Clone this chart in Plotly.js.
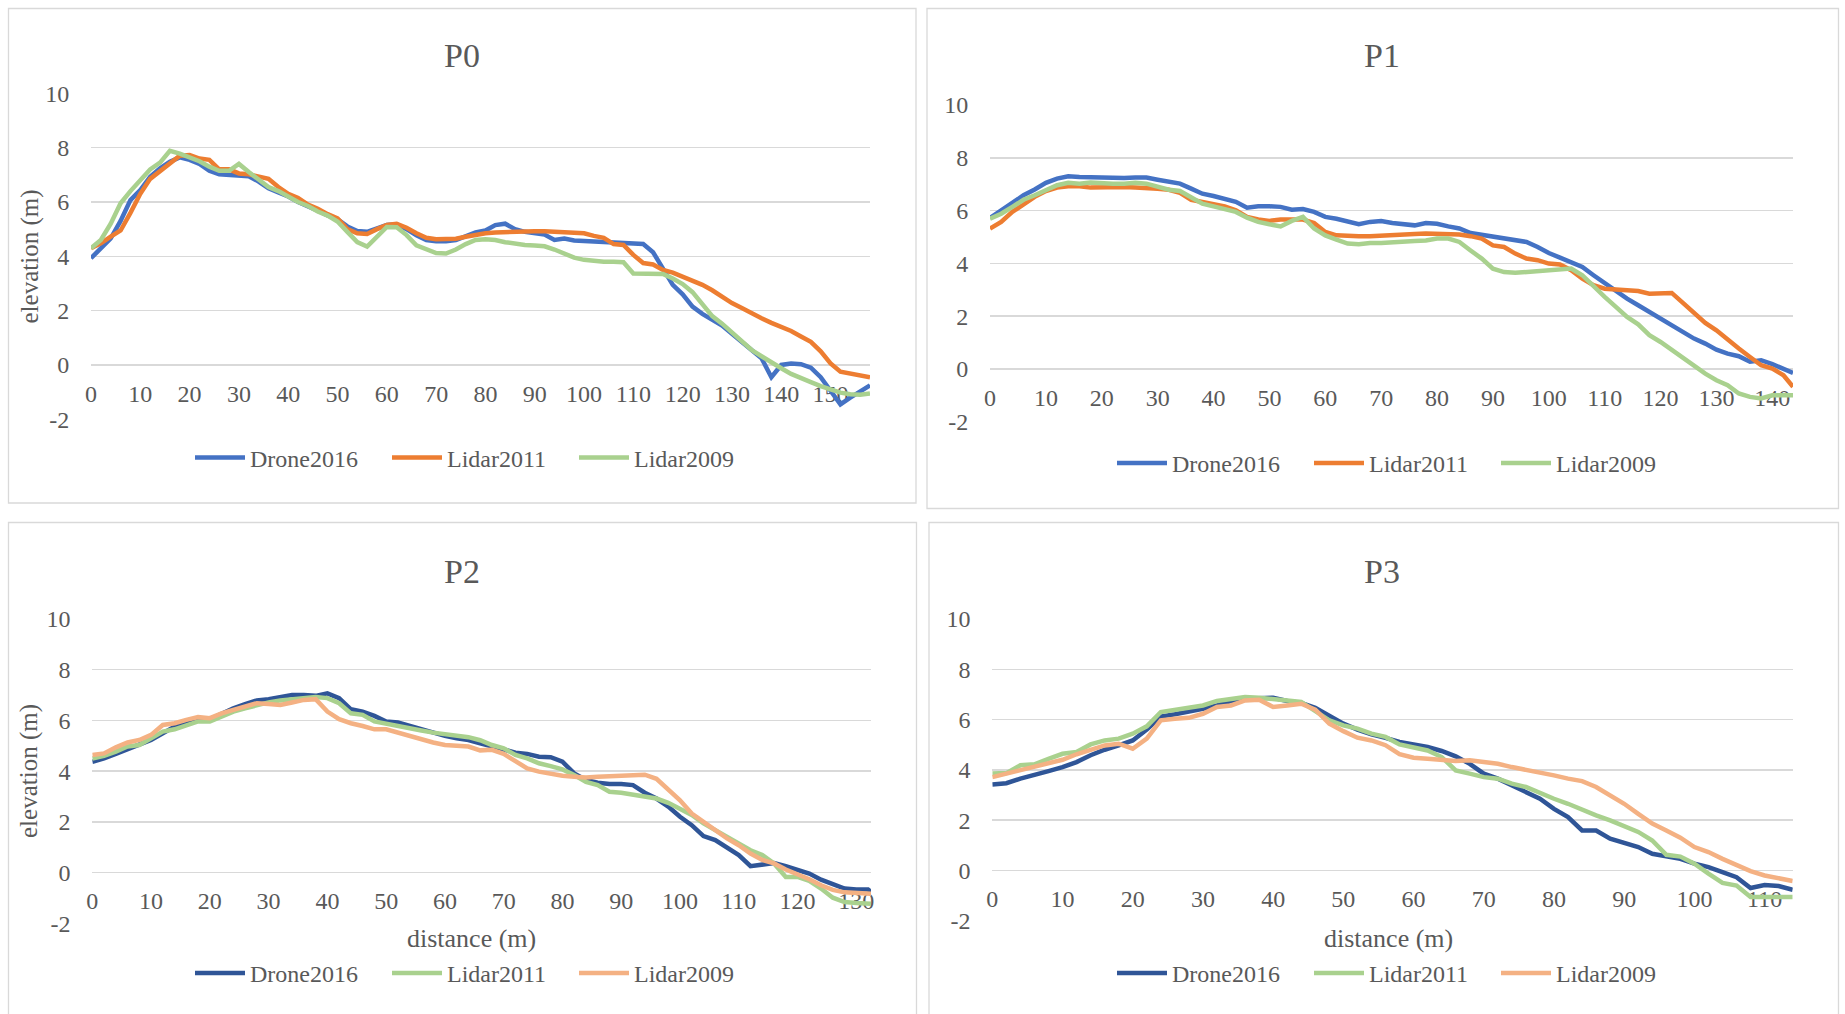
<!DOCTYPE html>
<html><head><meta charset="utf-8">
<script src="https://cdn.plot.ly/plotly-3.0.1.min.js"></script>
<style>html,body{margin:0;padding:0;background:#fff;}#chart{width:1845px;height:1014px;}</style>
</head><body><div id="chart"></div>
<script>
// ---------------- DATA ----------------
const seriesNames = ['Drone2016', 'Lidar2011', 'Lidar2009'];
const panelTitles = ['P0', 'P1', 'P2', 'P3'];
const yTickValues = [-2, 0, 2, 4, 6, 8, 10];
const yTickLabels = ['-2', '0', '2', '4', '6', '8', '10'];

const p0Distance = [0,2,4,6,8,10,12,14,16,18,20,22,24,26,28,30,32,34,36,38,40,42,44,46,48,50,52,54,56,58,60,62,64,66,68,70,72,74,76,78,80,82,84,86,88,90,92,94,96,98,100,102,104,106,108,110,112,114,116,118,120,122,124,126,128,130,132,134,136,138,140,142,144,146,148,150,152,154,156,158];
const p0Drone2016 = [3.93,4.3,4.66,5.3,6.07,6.44,6.93,7.24,7.48,7.64,
  7.55,7.4,7.15,7.02,7.0,6.97,6.95,6.75,6.5,6.35,
  6.2,6.0,5.85,5.68,5.5,5.36,5.1,4.93,4.9,5.03,
  5.15,5.18,5.0,4.77,4.6,4.55,4.55,4.6,4.75,4.88,
  4.95,5.15,5.2,5.0,4.9,4.85,4.8,4.6,4.65,4.58,
  4.56,4.55,4.52,4.52,4.52,4.5,4.45,4.15,3.55,2.95,
  2.6,2.15,1.88,1.68,1.45,1.15,0.85,0.55,0.25,-0.45,
  0.0,0.05,0.03,-0.1,-0.45,-0.95,-1.45,-1.2,-0.95,-0.75];
const p0Lidar2011 = [4.3,4.48,4.72,4.95,5.6,6.3,6.85,7.15,7.45,7.7,
  7.73,7.6,7.55,7.2,7.2,7.05,7.02,6.95,6.85,6.55,
  6.3,6.15,5.9,5.75,5.55,5.4,5.0,4.85,4.82,5.0,
  5.15,5.2,5.05,4.85,4.68,4.63,4.63,4.65,4.72,4.8,
  4.85,4.88,4.9,4.92,4.92,4.92,4.92,4.9,4.88,4.87,
  4.85,4.75,4.68,4.45,4.42,4.05,3.75,3.7,3.5,3.4,
  3.25,3.1,2.95,2.75,2.5,2.28,2.1,1.9,1.72,1.55,
  1.4,1.25,1.05,0.85,0.5,0.06,-0.25,-0.31,-0.36,-0.45];
const p0Lidar2009 = [4.3,4.6,5.2,5.95,6.4,6.8,7.2,7.45,7.88,7.78,
  7.65,7.5,7.3,7.15,7.15,7.4,7.1,6.85,6.55,6.4,
  6.2,6.0,5.85,5.65,5.5,5.28,4.9,4.52,4.36,4.7,
  5.08,5.07,4.78,4.4,4.25,4.12,4.1,4.25,4.45,4.6,
  4.63,4.6,4.52,4.45,4.42,4.4,4.37,4.25,4.08,3.95,
  3.87,3.82,3.8,3.8,3.78,3.37,3.36,3.37,3.35,3.18,
  2.98,2.68,2.25,1.8,1.52,1.2,0.83,0.55,0.32,0.08,
  -0.12,-0.33,-0.5,-0.63,-0.78,-0.92,-1.02,-1.08,-1.1,-1.05];

const p1Distance = [0,2,4,6,8,10,12,14,16,18,20,22,24,26,28,30,32,34,36,38,40,42,44,46,48,50,52,54,56,58,60,62,64,66,68,70,72,74,76,78,80,82,84,86,88,90,92,94,96,98,100,102,104,106,108,110,112,114,116,118,120,122,124,126,128,130,132,134,136,138,140,142,143.7];
const p1Drone2016 = [5.72,6.0,6.33,6.58,6.8,7.05,7.21,7.3,7.27,7.25,
  7.23,7.22,7.23,7.25,7.25,7.17,7.08,7.02,6.83,6.64,
  6.55,6.45,6.33,6.11,6.16,6.16,6.14,6.03,6.06,5.95,
  5.76,5.69,5.57,5.48,5.57,5.6,5.53,5.48,5.44,5.53,
  5.5,5.4,5.32,5.15,5.09,5.0,4.94,4.87,4.81,4.62,
  4.39,4.22,4.05,3.86,3.55,3.26,2.92,2.66,2.41,2.16,
  1.88,1.65,1.4,1.15,0.96,0.73,0.58,0.48,0.27,0.33,
  0.18,0.01,-0.15];
const p1Lidar2011 = [5.32,5.57,5.95,6.26,6.52,6.74,6.87,6.92,6.92,6.87,
  6.89,6.87,6.89,6.87,6.87,6.83,6.79,6.67,6.41,6.33,
  6.24,6.16,6.01,5.76,5.66,5.61,5.66,5.68,5.66,5.53,
  5.19,5.06,5.03,5.03,5.03,5.06,5.08,5.09,5.11,5.13,
  5.13,5.11,5.09,5.03,4.94,4.68,4.62,4.37,4.18,4.12,
  3.99,3.96,3.74,3.42,3.17,3.04,3.0,2.98,2.95,2.85,
  2.85,2.88,2.5,2.1,1.74,1.46,1.09,0.77,0.45,0.14,
  0.01,-0.24,-0.68];
const p1Lidar2009 = [5.69,5.88,6.14,6.41,6.58,6.79,6.96,7.05,7.02,7.06,
  7.02,7.02,7.02,7.05,7.02,6.89,6.79,6.74,6.52,6.26,
  6.16,6.07,5.95,5.73,5.57,5.48,5.4,5.61,5.76,5.32,
  5.06,4.9,4.75,4.72,4.77,4.77,4.81,4.81,4.85,4.87,
  4.94,4.94,4.81,4.49,4.18,3.8,3.67,3.64,3.67,3.71,
  3.76,3.8,3.8,3.55,3.11,2.73,2.35,1.97,1.69,1.28,
  1.02,0.71,0.39,0.08,-0.18,-0.43,-0.62,-0.93,-1.06,-1.12,
  -1.0,-1.0,-1.0];

const p2Distance = [0,2,4,6,8,10,12,14,16,18,20,22,24,26,28,30,32,34,36,38,40,42,44,46,48,50,52,54,56,58,60,62,64,66,68,70,72,74,76,78,80,82,84,86,88,90,92,94,96,98,100,102,104,106,108,110,112,114,116,118,120,122,124,126,128,130,132,132.5];
const p2Drone2016 = [4.37,4.5,4.68,4.86,5.03,5.23,5.49,5.76,5.96,6.09,
  6.05,6.28,6.48,6.64,6.79,6.84,6.92,7.0,7.0,6.97,
  7.07,6.88,6.44,6.35,6.18,5.96,5.92,5.78,5.65,5.52,
  5.39,5.3,5.23,5.1,4.97,4.84,4.73,4.68,4.57,4.55,
  4.37,3.91,3.65,3.54,3.49,3.49,3.45,3.15,2.92,2.6,
  2.2,1.87,1.44,1.28,0.99,0.69,0.25,0.3,0.38,0.25,
  0.12,-0.04,-0.28,-0.46,-0.63,-0.67,-0.67,-0.76];
const p2Lidar2011 = [4.5,4.6,4.77,4.97,5.03,5.3,5.56,5.65,5.82,5.96,
  5.96,6.15,6.35,6.48,6.61,6.71,6.79,6.84,6.88,6.92,
  6.88,6.68,6.28,6.22,5.96,5.86,5.76,5.69,5.6,5.52,
  5.47,5.39,5.34,5.22,5.03,4.9,4.64,4.5,4.31,4.2,
  4.07,3.85,3.58,3.45,3.19,3.15,3.06,2.99,2.92,2.75,
  2.49,2.27,1.94,1.67,1.41,1.15,0.88,0.69,0.36,-0.17,
  -0.17,-0.33,-0.63,-0.99,-1.16,-1.2,-1.23,-1.23];
const p2Lidar2009 = [4.64,4.7,4.94,5.13,5.23,5.43,5.82,5.89,6.02,6.13,
  6.09,6.28,6.42,6.55,6.68,6.65,6.61,6.71,6.81,6.84,
  6.35,6.05,5.89,5.78,5.65,5.65,5.52,5.39,5.23,5.13,
  5.03,4.99,4.97,4.82,4.84,4.68,4.37,4.11,3.98,3.89,
  3.82,3.78,3.75,3.78,3.81,3.82,3.85,3.86,3.7,3.3,
  2.85,2.33,2.0,1.65,1.35,1.08,0.75,0.5,0.36,0.12,
  -0.05,-0.26,-0.5,-0.68,-0.78,-0.82,-0.83,-0.83];

const p3Distance = [0,2,4,6,8,10,12,14,16,18,20,22,24,26,28,30,32,34,36,38,40,42,44,46,48,50,52,54,56,58,60,62,64,66,68,70,72,74,76,78,80,82,84,86,88,90,92,94,96,98,100,102,104,106,108,110,112,114];
const p3Drone2016 = [3.42,3.47,3.65,3.82,3.95,4.11,4.31,4.58,4.8,4.97,
  5.17,5.6,6.12,6.21,6.3,6.43,6.56,6.74,6.83,6.87,
  6.87,6.74,6.66,6.47,6.17,5.84,5.6,5.41,5.27,5.11,
  5.01,4.91,4.75,4.54,4.24,3.85,3.65,3.38,3.12,2.85,
  2.45,2.12,1.59,1.59,1.26,1.09,0.93,0.66,0.56,0.46,
  0.27,0.13,-0.07,-0.27,-0.7,-0.58,-0.62,-0.77];
const p3Lidar2011 = [3.85,3.87,4.18,4.22,4.44,4.64,4.71,5.01,5.17,5.24,
  5.44,5.73,6.3,6.39,6.47,6.56,6.74,6.83,6.9,6.87,
  6.83,6.76,6.7,6.34,5.97,5.77,5.64,5.44,5.31,5.01,
  4.91,4.77,4.51,3.98,3.85,3.71,3.65,3.45,3.32,3.08,
  2.85,2.65,2.41,2.19,1.99,1.75,1.53,1.19,0.62,0.55,
  0.27,-0.13,-0.5,-0.6,-1.06,-1.06,-1.06,-1.06];
const p3Lidar2009 = [3.71,3.85,3.98,4.11,4.24,4.4,4.62,4.8,4.97,5.04,
  4.84,5.24,5.97,6.03,6.07,6.23,6.5,6.56,6.76,6.79,
  6.5,6.56,6.63,6.39,5.84,5.54,5.28,5.17,4.98,4.62,
  4.48,4.44,4.38,4.35,4.38,4.31,4.24,4.11,4.01,3.91,
  3.78,3.65,3.55,3.32,2.98,2.65,2.25,1.86,1.59,1.3,
  0.93,0.73,0.46,0.2,-0.03,-0.2,-0.33,-0.42];

// ---------------- STYLE / LAYOUT ----------------
const W = 1845, H = 1014;
const fx = p => p / W;
const fy = p => 1 - p / H;
const FONT = 'Liberation Serif, Times New Roman, serif';
const GREY = '#595959';
const GRID = '#D9D9D9';
const legendEntryWidths = [132, 122, 132];

const panels = [
  { x: p0Distance, ys: [p0Drone2016, p0Lidar2011, p0Lidar2009],
    colors: ['#4472C4', '#ED7D31', '#A9D18E'],
    plot: [91, 870, 93.3, 419.3], box: [8.5, 916, 8.5, 503],
    titleXY: [462, 56], legendXY: [190, 458], yTitleXY: [29, 256.5], xTitleXY: null },
  { x: p1Distance, ys: [p1Drone2016, p1Lidar2011, p1Lidar2009],
    colors: ['#4472C4', '#ED7D31', '#A9D18E'],
    plot: [990, 1793, 105, 421.7], box: [927, 1838.5, 8.5, 508.5],
    titleXY: [1382, 56], legendXY: [1112, 463.5], yTitleXY: null, xTitleXY: null },
  { x: p2Distance, ys: [p2Drone2016, p2Lidar2011, p2Lidar2009],
    colors: ['#2F5597', '#A9D18E', '#F4B183'],
    plot: [92.3, 871, 619, 923.3], box: [8.5, 916.5, 522.5, 1030],
    titleXY: [462, 571], legendXY: [190, 973.3], yTitleXY: [29, 771], xTitleXY: [471, 938] },
  { x: p3Distance, ys: [p3Drone2016, p3Lidar2011, p3Lidar2009],
    colors: ['#2F5597', '#A9D18E', '#F4B183'],
    plot: [992.3, 1792.7, 619, 920.7], box: [929, 1838.5, 522.5, 1030],
    titleXY: [1382, 571], legendXY: [1112, 973.3], yTitleXY: null, xTitleXY: [1388, 938] }
];

const traces = [];
const layout = {
  width: W, height: H,
  margin: { l: 0, r: 0, t: 0, b: 0, pad: 0 },
  paper_bgcolor: '#ffffff', plot_bgcolor: 'rgba(0,0,0,0)',
  font: { family: FONT, color: GREY, size: 24 },
  showlegend: true,
  shapes: [], annotations: []
};

panels.forEach((p, i) => {
  const k = i + 1;
  const sx = k === 1 ? '' : String(k);
  const xd = [fx(p.plot[0]), fx(p.plot[1])];
  const yd = [fy(p.plot[3]), fy(p.plot[2])];
  const yMin = yTickValues[0], yMax = yTickValues[yTickValues.length - 1];
  const xMax = p.x[p.x.length - 1];

  p.ys.forEach((vals, j) => {
    traces.push({
      type: 'scatter', mode: 'lines',
      x: p.x, y: vals, name: seriesNames[j],
      xaxis: 'x' + sx, yaxis: 'y' + sx,
      legend: 'legend' + sx, legendwidth: legendEntryWidths[j],
      line: { color: p.colors[j], width: 4.5 },
      hoverinfo: 'skip'
    });
  });

  layout['xaxis' + sx] = {
    domain: xd, range: [0, xMax], anchor: 'free',
    position: yd[0] + (yd[1] - yd[0]) * (0 - yMin) / (yMax - yMin),
    showgrid: false, zeroline: false, showline: false,
    tickmode: 'linear', tick0: 0, dtick: 10,
    ticks: 'outside', ticklen: 7, tickcolor: 'rgba(0,0,0,0)',
    tickfont: { family: FONT, size: 24, color: GREY },
    layer: 'below traces', fixedrange: true
  };
  layout['yaxis' + sx] = {
    domain: yd, range: [yMin, yMax], anchor: 'x' + sx,
    tickmode: 'array', tickvals: yTickValues, ticktext: yTickLabels,
    showgrid: true, gridcolor: GRID, gridwidth: 1.5,
    zeroline: false, showline: false,
    ticks: 'outside', ticklen: 16, tickcolor: 'rgba(0,0,0,0)',
    tickfont: { family: FONT, size: 24, color: GREY },
    layer: 'below traces', fixedrange: true
  };
  layout['legend' + sx] = {
    orientation: 'h', x: fx(p.legendXY[0]), y: fy(p.legendXY[1]),
    xanchor: 'left', yanchor: 'middle',
    font: { family: FONT, size: 24, color: GREY },
    bgcolor: 'rgba(0,0,0,0)', borderwidth: 0,
    itemwidth: 50, traceorder: 'normal'
  };

  layout.shapes.push({
    type: 'rect', xref: 'paper', yref: 'paper',
    x0: fx(p.box[0]), x1: fx(p.box[1]), y0: fy(p.box[3]), y1: fy(p.box[2]),
    line: { color: GRID, width: 1.3 }, fillcolor: 'rgba(0,0,0,0)', layer: 'below'
  });

  layout.annotations.push({
    text: panelTitles[i], xref: 'paper', yref: 'paper',
    x: fx(p.titleXY[0]), y: fy(p.titleXY[1]), xanchor: 'center', yanchor: 'middle',
    showarrow: false, font: { family: FONT, size: 34, color: GREY }
  });
  if (p.yTitleXY) {
    layout.annotations.push({
      text: 'elevation (m)', xref: 'paper', yref: 'paper', textangle: -90,
      x: fx(p.yTitleXY[0]), y: fy(p.yTitleXY[1]), xanchor: 'center', yanchor: 'middle',
      showarrow: false, font: { family: FONT, size: 25, color: GREY }
    });
  }
  if (p.xTitleXY) {
    layout.annotations.push({
      text: 'distance (m)', xref: 'paper', yref: 'paper',
      x: fx(p.xTitleXY[0]), y: fy(p.xTitleXY[1]), xanchor: 'center', yanchor: 'middle',
      showarrow: false, font: { family: FONT, size: 26, color: GREY }
    });
  }
});

Plotly.newPlot('chart', traces, layout, { displayModeBar: false, staticPlot: true });
</script>
</body></html>
